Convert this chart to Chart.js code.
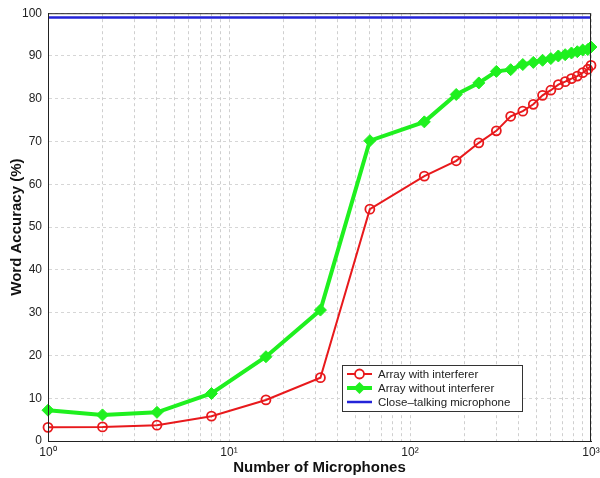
<!DOCTYPE html>
<html>
<head>
<meta charset="utf-8">
<script src="https://cdn.jsdelivr.net/npm/chart.js@4/dist/chart.umd.min.js"></script>
<style>
  html, body { margin: 0; padding: 0; background: #fff; }
  #wrap { width: 600px; height: 478px; }
</style>
</head>
<body>
<div id="wrap"><canvas id="chart" width="600" height="478"></canvas></div>
<script>
// number of microphones (x, log scale)
const mics = [1, 2, 4, 8, 16, 32, 60, 120, 180, 240, 300, 360, 420, 480, 540, 600, 660, 720, 780, 840, 900, 960, 1000];
// word accuracy (%) per series
const withInterferer = [3.2, 3.3, 3.7, 5.8, 9.6, 14.8, 54.2, 61.9, 65.5, 69.7, 72.5, 75.9, 77.1, 78.7, 80.8, 82.0, 83.3, 84.0, 84.7, 85.3, 86.1, 86.9, 87.8];
const withoutInterferer = [7.2, 6.1, 6.7, 11.1, 19.7, 30.6, 70.2, 74.6, 81.0, 83.7, 86.4, 86.8, 88.0, 88.5, 89.0, 89.4, 90.0, 90.3, 90.7, 91.0, 91.4, 91.5, 92.1];
const closeTalkX = [1, 1000];
const closeTalk = [99, 99];

const xTickValues = [1, 2, 3, 4, 5, 6, 7, 8, 9, 10, 20, 30, 40, 50, 60, 70, 80, 90, 100, 200, 300, 400, 500, 600, 700, 800, 900, 1000];
const xMajor = [1, 10, 100, 1000];
const xTickLabels = ['10⁰', '10¹', '10²', '10³'];

const labels = ['Array with interferer', 'Array without interferer', 'Close\u2013talking microphone'];

const pts = (xs, ys) => xs.map((x, i) => ({x: x, y: ys[i]}));
const FONT = '"Liberation Sans", Arial, sans-serif';

// box around the plot + legend inside
const boxLegend = {
  id: 'boxLegend',
  afterDraw(chart) {
    const ctx = chart.ctx;
    const a = chart.chartArea;
    ctx.save();
    ctx.strokeStyle = '#222';
    ctx.lineWidth = 1;
    ctx.strokeRect(a.left + 0.5, a.top + 0.5, a.right - a.left - 1, a.bottom - a.top);

    // legend
    const lx = 342, ly = 365, lw = 180, lh = 46;
    ctx.fillStyle = '#fff';
    ctx.fillRect(lx, ly, lw, lh);
    ctx.strokeStyle = '#333';
    ctx.strokeRect(lx + 0.5, ly + 0.5, lw, lh);
    ctx.font = '11.5px ' + FONT;
    ctx.textBaseline = 'middle';
    chart.data.datasets.forEach((ds, i) => {
      const y = ly + 9 + i * 14;
      ctx.strokeStyle = ds.borderColor;
      ctx.lineWidth = ds.borderWidth;
      ctx.beginPath();
      ctx.moveTo(lx + 5, y);
      ctx.lineTo(lx + 30, y);
      ctx.stroke();
      if (ds.pointRadius > 0) {
        ctx.fillStyle = ds.pointBackgroundColor;
        ctx.strokeStyle = ds.borderColor;
        ctx.lineWidth = ds.pointBorderWidth;
        ctx.beginPath();
        if (ds.pointStyle === 'rectRot') {
          const r = ds.pointRadius;
          ctx.moveTo(lx + 17.5, y - r); ctx.lineTo(lx + 17.5 + r, y);
          ctx.lineTo(lx + 17.5, y + r); ctx.lineTo(lx + 17.5 - r, y);
          ctx.closePath();
          ctx.fill();
        } else {
          ctx.arc(lx + 17.5, y, ds.pointRadius, 0, Math.PI * 2);
          ctx.fillStyle = '#fff';
          ctx.fill();
          ctx.stroke();
        }
      }
      ctx.fillStyle = '#222';
      ctx.fillText(ds.label, lx + 36, y + 0.5);
    });
    ctx.restore();
  }
};

new Chart(document.getElementById('chart'), {
  type: 'line',
  data: {
    datasets: [
      {
        label: labels[0],
        data: pts(mics, withInterferer),
        borderColor: '#e8191c',
        borderWidth: 2,
        pointStyle: 'circle',
        pointRadius: 4.5,
        pointBorderWidth: 1.8,
        pointBackgroundColor: 'rgba(255,255,255,0)',
        pointBorderColor: '#e8191c',
        order: 2
      },
      {
        label: labels[1],
        data: pts(mics, withoutInterferer),
        borderColor: '#1ff01f',
        borderWidth: 4,
        pointStyle: 'rectRot',
        pointRadius: 6,
        pointBorderWidth: 1,
        pointBackgroundColor: '#1ff01f',
        pointBorderColor: '#1ff01f',
        order: 1
      },
      {
        label: labels[2],
        data: pts(closeTalkX, closeTalk),
        borderColor: '#2323d8',
        borderWidth: 2.5,
        pointRadius: 0,
        pointBorderWidth: 0,
        order: 0
      }
    ]
  },
  options: {
    responsive: false,
    animation: false,
    clip: false,
    layout: { padding: { left: 0, top: 13, right: 9, bottom: 0 } },
    plugins: { legend: { display: false }, tooltip: { enabled: false } },
    scales: {
      x: {
        type: 'logarithmic',
        min: 1,
        max: 1000,
        afterBuildTicks(scale) {
          scale.ticks = xTickValues.map(v => ({ value: v, major: xMajor.includes(v) }));
        },
        afterFit(scale) {
          scale.height = 37;
          scale.paddingLeft = 0;
          scale.paddingRight = 0;
        },
        ticks: {
          autoSkip: false,
          maxRotation: 0,
          padding: 4,
          color: '#222',
          font: { family: FONT, size: 12 },
          callback(value) {
            const k = xMajor.indexOf(value);
            return k >= 0 ? xTickLabels[k] : '';
          }
        },
        grid: { color: '#cfcfcf', lineWidth: 1, drawTicks: false },
        border: { display: true, color: '#222', dash: [3, 3] },
        title: {
          display: true,
          text: 'Number of Microphones',
          color: '#111',
          padding: { top: 0, bottom: 1 },
          font: { family: FONT, size: 15, weight: 'bold' }
        }
      },
      y: {
        min: 0,
        max: 100,
        afterFit(scale) { scale.width = 48; },
        ticks: {
          stepSize: 10,
          padding: 6,
          color: '#222',
          font: { family: FONT, size: 12 }
        },
        grid: { color: '#d6d6d6', lineWidth: 1, drawTicks: false },
        border: { display: true, color: '#222', dash: [3, 3] },
        title: {
          display: true,
          text: 'Word Accuracy (%)',
          color: '#111',
          padding: { top: 8, bottom: 0 },
          font: { family: FONT, size: 15, weight: 'bold' }
        }
      }
    }
  },
  plugins: [boxLegend]
});
</script>
</body>
</html>
